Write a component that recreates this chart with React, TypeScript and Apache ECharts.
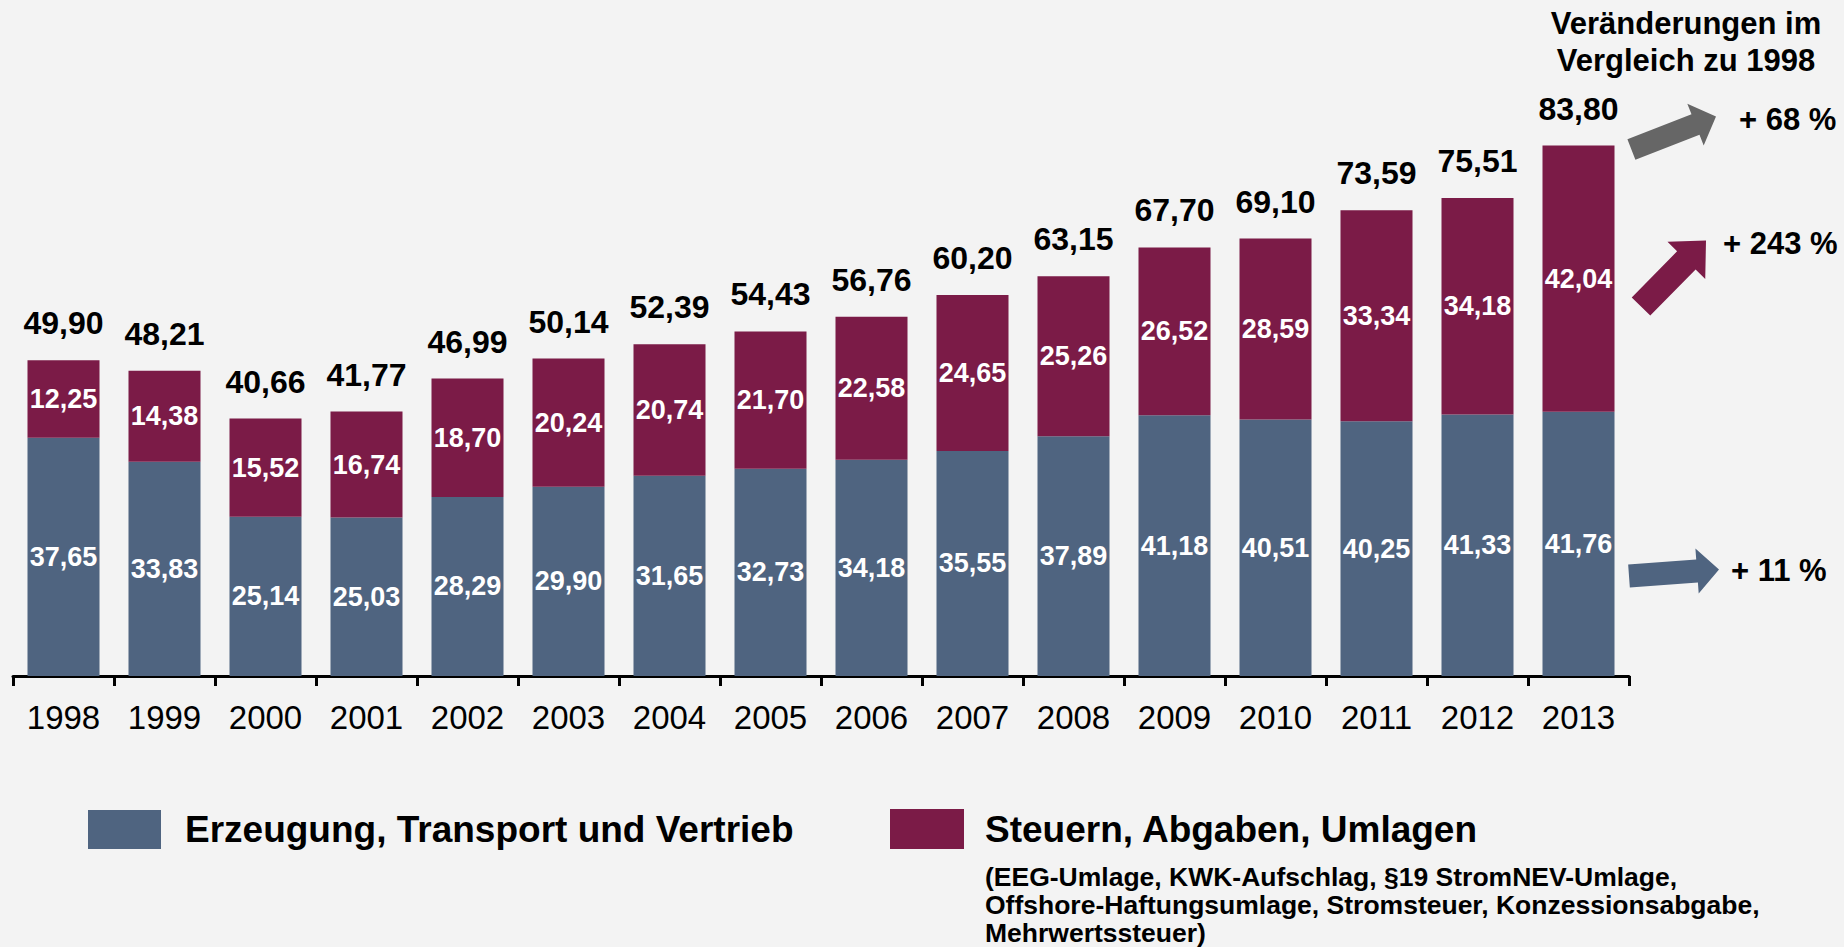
import React, { useEffect, useRef } from 'react';
import * as echarts from 'echarts';

const years = ['1998', '1999', '2000', '2001', '2002', '2003', '2004', '2005', '2006', '2007', '2008', '2009', '2010', '2011', '2012', '2013'];
const erzeugung = [37.65, 33.83, 25.14, 25.03, 28.29, 29.90, 31.65, 32.73, 34.18, 35.55, 37.89, 41.18, 40.51, 40.25, 41.33, 41.76];
const steuern = [12.25, 14.38, 15.52, 16.74, 18.70, 20.24, 20.74, 21.70, 22.58, 24.65, 25.26, 26.52, 28.59, 33.34, 34.18, 42.04];
const totals = [49.90, 48.21, 40.66, 41.77, 46.99, 50.14, 52.39, 54.43, 56.76, 60.20, 63.15, 67.70, 69.10, 73.59, 75.51, 83.80];
const seriesNames = ['Erzeugung, Transport und Vertrieb', 'Steuern, Abgaben, Umlagen'];
const subNote = '(EEG-Umlage, KWK-Aufschlag, §19 StromNEV-Umlage,\nOffshore-Haftungsumlage, Stromsteuer, Konzessionsabgabe,\nMehrwertssteuer)';
const changeTitle = 'Veränderungen im\nVergleich zu 1998';
const changeTotal = '+ 68 %';
const changeSteuern = '+ 243 %';
const changeErzeugung = '+ 11 %';

const FONT = '"Liberation Sans", Arial, Helvetica, sans-serif';
const BLUE = '#4F6480';
const MAROON = '#7B1B47';
const GRAY = '#666666';
const BG = '#F3F3F3';

const fmt = (v: number) => v.toFixed(2).replace('.', ',');

function arrowPoints(x0: number, y0: number, x1: number, y1: number, w: number, hw: number, hl: number) {
  const dx = x1 - x0, dy = y1 - y0;
  const L = Math.hypot(dx, dy);
  const ux = dx / L, uy = dy / L;
  const nx = -uy, ny = ux;
  const bx = x1 - ux * hl, by = y1 - uy * hl;
  return [
    [x0 + nx * w / 2, y0 + ny * w / 2],
    [bx + nx * w / 2, by + ny * w / 2],
    [bx + nx * hw / 2, by + ny * hw / 2],
    [x1, y1],
    [bx - nx * hw / 2, by - ny * hw / 2],
    [bx - nx * w / 2, by - ny * w / 2],
    [x0 - nx * w / 2, y0 - ny * w / 2],
  ];
}

export default function App() {
  const ref = useRef<HTMLDivElement>(null);
  useEffect(() => {
    document.body.style.margin = '0';
    document.body.style.background = BG;
    const chart = echarts.init(ref.current!, null, { renderer: 'svg' });
    const option: any = {
      animation: false,
      backgroundColor: BG,
      grid: { left: 13, right: 215, top: 43, bottom: 271, containLabel: false },
      xAxis: {
        type: 'category',
        data: years,
        axisLine: { lineStyle: { color: '#000', width: 3 } },
        axisTick: { show: true, length: 10, alignWithLabel: false, lineStyle: { color: '#000', width: 3 } },
        axisLabel: { fontSize: 33, color: '#000', margin: 25, fontFamily: FONT },
      },
      yAxis: { type: 'value', min: 0, max: 100, show: false, splitLine: { show: false } },
      legend: [
        {
          data: [seriesNames[0]], left: 88, top: 810, padding: 0, itemWidth: 73, itemHeight: 39, icon: 'rect',
          textStyle: { fontSize: 37, fontWeight: 'bold', color: '#000', fontFamily: FONT, padding: [0, 0, 0, 19] },
        },
        {
          data: [seriesNames[1]], left: 890, top: 809, padding: 0, itemWidth: 74, itemHeight: 40, icon: 'rect',
          textStyle: { fontSize: 37, fontWeight: 'bold', color: '#000', fontFamily: FONT, padding: [0, 0, 0, 16] },
        },
      ],
      series: [
        {
          name: seriesNames[0], type: 'bar', stack: 'a', data: erzeugung, barWidth: 72,
          itemStyle: { color: BLUE },
          label: { show: true, position: 'inside', color: '#fff', fontSize: 27, fontWeight: 'bold', fontFamily: FONT, formatter: (p: any) => fmt(p.value) },
        },
        {
          name: seriesNames[1], type: 'bar', stack: 'a', data: steuern, barWidth: 72,
          itemStyle: { color: MAROON },
          label: { show: true, position: 'inside', color: '#fff', fontSize: 27, fontWeight: 'bold', fontFamily: FONT, formatter: (p: any) => fmt(p.value) },
        },
        {
          name: 'Gesamt', type: 'bar', data: totals, barWidth: 72, barGap: '-100%', silent: true, z: 1,
          itemStyle: { color: 'rgba(0,0,0,0)' },
          label: { show: true, position: 'top', distance: 21, color: '#000', fontSize: 32, fontWeight: 'bold', fontFamily: FONT, formatter: (p: any) => fmt(p.value) },
        },
      ],
      graphic: [
        {
          type: 'text', x: 1686, y: 5,
          style: { text: changeTitle, fill: '#000', font: `bold 31px ${FONT}`, textAlign: 'center', textVerticalAlign: 'top', lineHeight: 37 },
        },
        { type: 'text', x: 1739, y: 119, style: { text: changeTotal, fill: '#000', font: `bold 31px ${FONT}`, textAlign: 'left', textVerticalAlign: 'middle' } },
        { type: 'text', x: 1723, y: 243, style: { text: changeSteuern, fill: '#000', font: `bold 31px ${FONT}`, textAlign: 'left', textVerticalAlign: 'middle' } },
        { type: 'text', x: 1731, y: 570, style: { text: changeErzeugung, fill: '#000', font: `bold 31px ${FONT}`, textAlign: 'left', textVerticalAlign: 'middle' } },
        { type: 'polygon', shape: { points: arrowPoints(1631.4, 149.6, 1716, 116.6, 22, 45, 22) }, style: { fill: GRAY } },
        { type: 'polygon', shape: { points: arrowPoints(1641, 306.5, 1706, 240.5, 26, 53, 28) }, style: { fill: MAROON } },
        { type: 'polygon', shape: { points: arrowPoints(1629, 576, 1719, 569.4, 23, 45, 22) }, style: { fill: BLUE } },
        {
          type: 'text', x: 985, y: 863,
          style: { text: subNote, fill: '#000', font: `bold 26.5px ${FONT}`, textAlign: 'left', textVerticalAlign: 'top', lineHeight: 28 },
        },
      ],
    };
    chart.setOption(option);
    return () => chart.dispose();
  }, []);
  return <div ref={ref} style={{ position: 'absolute', left: 0, top: 0, width: 1844, height: 947 }} />;
}
